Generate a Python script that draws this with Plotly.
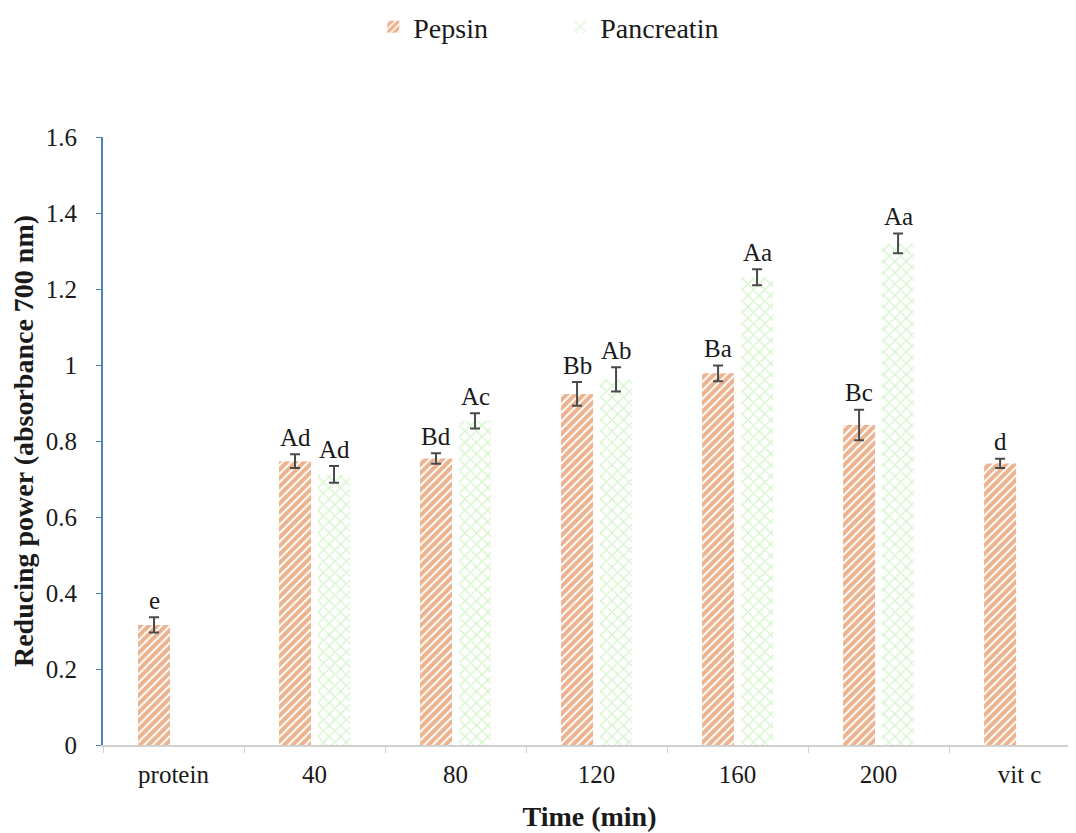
import plotly.graph_objects as go

categories = ["protein", "40", "80", "120", "160", "200", "vit c"]
pepsin = [0.316, 0.747, 0.754, 0.924, 0.978, 0.842, 0.741]
pepsin_err = [0.020, 0.018, 0.014, 0.031, 0.021, 0.040, 0.012]
pepsin_labels = ["e", "Ad", "Bd", "Bb", "Ba", "Bc", "d"]
pancreatin = [None, 0.712, 0.853, 0.962, 1.231, 1.320, None]
pancreatin_err = [0, 0.022, 0.020, 0.032, 0.021, 0.026, 0]
pancreatin_labels = ["", "Ad", "Ac", "Ab", "Aa", "Aa", ""]

FONT = "Liberation Serif"
TXT = "#1a1a1a"

fig = go.Figure()
fig.add_trace(go.Bar(
    name="Pepsin", x=categories, y=pepsin,
    error_y=dict(type="data", array=pepsin_err, color="#4a4a4a", thickness=2, width=5),
    marker=dict(color="white", line=dict(width=0),
                pattern=dict(shape="/", fgcolor="#D8661C", bgcolor="white", size=6, solidity=0.68)),
))
fig.add_trace(go.Bar(
    name="Pancreatin", x=categories, y=pancreatin,
    error_y=dict(type="data", array=pancreatin_err, color="#4a4a4a", thickness=2, width=5),
    marker=dict(color="white", line=dict(width=0),
                pattern=dict(shape="x", fgcolor="#A6EA92", bgcolor="white", size=8, solidity=0.3)),
))

# letter annotations above error bars
for i, c in enumerate(categories):
    if pepsin[i] is not None and pepsin_labels[i]:
        fig.add_annotation(x=i, y=pepsin[i] + pepsin_err[i], text=pepsin_labels[i],
                           xshift=-19.5, yshift=17, showarrow=False,
                           font=dict(family=FONT, size=25, color=TXT))
    if pancreatin[i] is not None and pancreatin_labels[i]:
        fig.add_annotation(x=i, y=pancreatin[i] + pancreatin_err[i], text=pancreatin_labels[i],
                           xshift=19.5, yshift=17, showarrow=False,
                           font=dict(family=FONT, size=25, color=TXT))

fig.update_layout(
    width=1068, height=825,
    paper_bgcolor="white", plot_bgcolor="white",
    margin=dict(l=95, r=0, t=129, b=88),
    barmode="group", bargap=0.447, bargroupgap=0.18,
    font=dict(family=FONT, size=25, color=TXT),
    showlegend=True,
    legend=dict(orientation="h", xref="container", x=0.342, xanchor="left",
                yref="container", y=0.977, yanchor="middle",
                font=dict(family=FONT, size=28, color=TXT),
                itemwidth=30, entrywidth=142, traceorder="normal"),
    xaxis=dict(
        type="category",
        range=[-0.5, 6.40], showgrid=False, showline=True, linecolor="#d0d0d0", linewidth=1.5,
        ticks="outside", tickson="boundaries", ticklen=6, tickcolor="#d0d0d0",
        ticklabelstandoff=6,
        tickfont=dict(family=FONT, size=25, color=TXT),
        title=dict(text="<b>Time (min)</b>", font=dict(family=FONT, size=28, color=TXT), standoff=20),
    ),
    yaxis=dict(
        range=[0, 1.6], showgrid=False, zeroline=False,
        showline=True, linecolor="#4F81BD", linewidth=2,
        ticks="outside", ticklen=5, tickcolor="#4F81BD",
        ticklabelstandoff=14,
        tickvals=[0, 0.2, 0.4, 0.6, 0.8, 1.0, 1.2, 1.4, 1.6],
        ticktext=["0", "0.2", "0.4", "0.6", "0.8", "1", "1.2", "1.4", "1.6"],
        tickfont=dict(family=FONT, size=25, color=TXT),
        title=dict(text="<b>Reducing power (absorbance 700 nm)</b>",
                   font=dict(family=FONT, size=28, color=TXT), standoff=8),
    ),
)

fig.write_html("out.html")
